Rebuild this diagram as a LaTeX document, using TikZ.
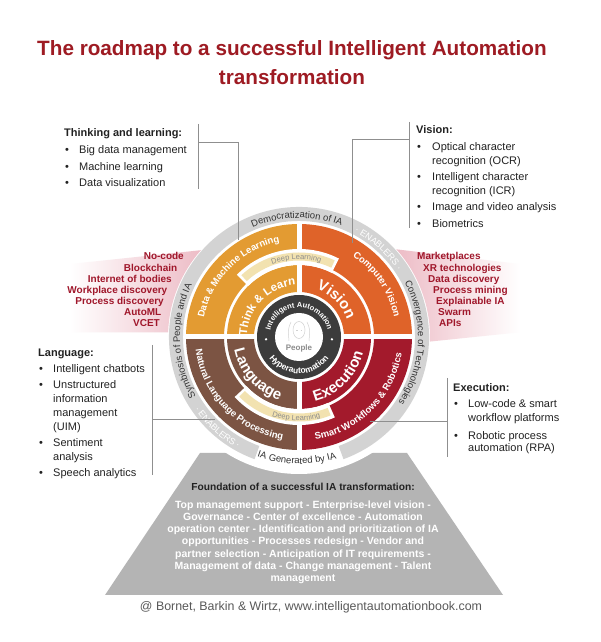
\documentclass[tikz,border=0pt]{standalone}
\usepackage{fontspec}
\setmainfont{Liberation Sans}
\usetikzlibrary{decorations.text}

\definecolor{titlered}{HTML}{9E1B23}
\definecolor{tlc}{HTML}{E39B32}
\definecolor{visc}{HTML}{DF6329}
\definecolor{langc}{HTML}{7C5443}
\definecolor{exc}{HTML}{A31A2C}
\definecolor{beige}{HTML}{F2E2B0}
\definecolor{darkring}{HTML}{3C3C3C}
\definecolor{enab}{HTML}{D3D3D3}
\definecolor{redtxt}{HTML}{A0172B}
\definecolor{pinkc}{HTML}{EDBCC6}
\definecolor{found}{HTML}{B4B4B4}
\definecolor{linec}{HTML}{8F8F8F}
\definecolor{bodytxt}{HTML}{222222}
\definecolor{graytxt}{HTML}{333333}
\definecolor{deeptxt}{HTML}{8C8C8C}

\newcommand\fsz[1]{\fontsize{#1}{#1}\selectfont}
\newcommand\annsec[5]{% color, r1, r2, a1, a2
  \fill[#1] ([shift={(#4:#3)}]O) arc[start angle=#4,end angle=#5,radius=#3]
    -- ([shift={(#5:#2)}]O) arc[start angle=#5,end angle=#4,radius=#2] -- cycle;}
\newcommand\cwtext[5]{% radius, centre angle, half span, format, text
  \path[decorate,decoration={text along path,text align=center,text={|#4|#5}}]
    ([shift={(#2+#3:#1)}]O) arc[start angle=#2+#3,end angle=#2-#3,radius=#1];}
\newcommand\ccwtext[5]{%
  \path[decorate,decoration={text along path,text align=center,text={|#4|#5}}]
    ([shift={(#2-#3:#1)}]O) arc[start angle=#2-#3,end angle=#2+#3,radius=#1];}
\newcommand\fInA{\fsz{11.5}\bfseries\color{white}}
\newcommand\fInB{\fsz{15}\bfseries\color{white}}
\newcommand\fOut{\fsz{9.5}\bfseries\color{white}}
\newcommand\fGr{\fsz{9.5}\color{graytxt}}
\newcommand\fEn{\fsz{9}\color{white}}
\newcommand\fDp{\fsz{7.5}\color{deeptxt}}
\newcommand\fDkA{\fsz{7.5}\bfseries\color{white}}
\newcommand\fDkB{\fsz{8.5}\bfseries\color{white}}

\begin{document}
\begin{tikzpicture}[x=1pt,y=1pt,
  txt/.style={inner sep=0pt,anchor=base west,font=\fsz{11},text=bodytxt},
  hdr/.style={txt,font=\fsz{11}\bfseries},
  redl/.style={inner sep=0pt,font=\fsz{10}\bfseries,text=redtxt},
  fnd/.style={inner sep=0pt,anchor=base,font=\fsz{10.5}\bfseries,text=white},
  callout/.style={draw=linec,line width=0.8pt}]
\fill[white] (0,0) rectangle (600,642);
\useasboundingbox (0,0) rectangle (600,642);
\coordinate (O) at (299,305);

% title
\node[inner sep=0pt,anchor=base,font=\fsz{20.7}\bfseries,text=titlered] (t1) at (292,586) {The roadmap to a successful Intelligent Automation};
\node[inner sep=0pt,anchor=base,font=\fsz{20.7}\bfseries,text=titlered] (t2) at (292,557.5) {transformation};

% foundation trapezoid
\fill[found] (200,189) -- (407,189) -- (503,47) -- (105,47) -- cycle;
\fill[white] (O) circle (137pt);

% pink backgrounds
\shade[left color=white,right color=pinkc] (70,378) -- ([shift={(138.5:131pt)}]O)
  arc[start angle=138.5,end angle=178,radius=131pt] -- (70,309.7) -- cycle;
\shade[left color=pinkc,right color=white] ([shift={(42:131pt)}]O) -- (520,378) -- (520,309.7)
  -- ([shift={(-2:131pt)}]O) arc[start angle=-2,end angle=42,radius=131pt] -- cycle;

% enablers ring
\annsec{enab}{116pt}{130pt}{-70}{250}

% outer quadrant ring
\annsec{visc}{75pt}{113pt}{0}{90}
\annsec{tlc}{75pt}{113pt}{90}{180}
\annsec{langc}{75pt}{113pt}{180}{270}
\annsec{exc}{75pt}{113pt}{270}{360}
% inner quadrant ring
\annsec{visc}{45pt}{72pt}{0}{90}
\annsec{tlc}{45pt}{72pt}{90}{180}
\annsec{langc}{45pt}{72pt}{180}{270}
\annsec{exc}{45pt}{72pt}{270}{360}
% notches for deep learning
\annsec{white}{72pt}{88pt}{63}{135}
\annsec{white}{72pt}{88pt}{223}{294}
% quadrant gaps
\draw[white,line width=5pt] ([shift={(-114pt,0)}]O) -- ([shift={(114pt,0)}]O);
\draw[white,line width=5pt] ([shift={(0,-114pt)}]O) -- ([shift={(0,114pt)}]O);
% deep learning bands
\annsec{beige}{76.5pt}{84.5pt}{65}{133}
\annsec{beige}{76.5pt}{84.5pt}{225}{292}

% dark ring and centre
\fill[darkring] (O) circle (42pt);
\fill[white] (O) circle (24pt);
\fill[white] ([shift={(184:33pt)}]O) circle (1.3pt);
\fill[white] ([shift={(356:33pt)}]O) circle (1.3pt);
% faint face
\begin{scope}[draw=black!18,line width=0.5pt]
  \draw ([shift={(0,7)}]O) ellipse (6pt and 8.5pt);
  \draw ([shift={(-8,15)}]O) .. controls ([shift={(-11,8)}]O) .. ([shift={(-10,-4)}]O);
  \draw ([shift={(8,15)}]O) .. controls ([shift={(11,8)}]O) .. ([shift={(10,-4)}]O);
  \draw ([shift={(-3,7)}]O) -- ([shift={(-1.5,7)}]O);
  \draw ([shift={(1.5,7)}]O) -- ([shift={(3,7)}]O);
\end{scope}
\node[inner sep=0pt,anchor=base,font=\fsz{8}\bfseries,text=black!45] (people) at (299,291) {People};

% ring texts
\cwtext{52pt}{136}{80}{\fInA}{Think {\&} Learn}
\cwtext{51pt}{45}{80}{\fInB}{Vision}
\ccwtext{66pt}{222}{80}{\fInB}{Language}
\ccwtext{66pt}{315}{80}{\fInB}{Execution}

\cwtext{97pt}{135}{80}{\fOut}{Data {\&} Machine Learning}
\cwtext{97pt}{34}{80}{\fOut}{Computer Vision}
\ccwtext{104pt}{224}{80}{\fOut}{Natural Language Processing}
\ccwtext{104pt}{315}{80}{\fOut}{Smart Workflows {\&} Robotics}

\cwtext{119pt}{91}{80}{\fGr}{Democratization of IA}
\cwtext{119pt}{-3}{80}{\fGr}{Convergence of Technologies}
\cwtext{119pt}{182}{80}{\fGr}{Symbiosis of People and IA}
\ccwtext{127pt}{269}{80}{\fGr}{IA Generated by IA}
\cwtext{119pt}{48}{40}{\fEn}{· ENABLERS ·}
\ccwtext{127pt}{228}{40}{\fEn}{· ENABLERS ·}

\cwtext{77.5pt}{92}{60}{\fDp}{Deep Learning}
\ccwtext{83.5pt}{268}{60}{\fDp}{Deep Learning}

\cwtext{29.5pt}{90}{89}{\fDkA}{Intelligent Automation}
\ccwtext{36.5pt}{270}{85}{\fDkB}{Hyperautomation}

% callout lines
\coordinate (thA) at (198,518); \coordinate (thB) at (198,453);
\coordinate (thC) at (198,500); \coordinate (thD) at (238,500); \coordinate (thE) at (238,402);
\draw[callout] (thA) -- (thB);
\draw[callout] (thC) -- (thD) -- (thE);
\coordinate (viA) at (409,520); \coordinate (viB) at (409,414);
\coordinate (viC) at (409,503); \coordinate (viD) at (352,503); \coordinate (viE) at (352,399);
\draw[callout] (viA) -- (viB);
\draw[callout] (viC) -- (viD) -- (viE);
\coordinate (laA) at (152,297); \coordinate (laB) at (152,167);
\coordinate (laC) at (152,223); \coordinate (laD) at (215,223);
\draw[callout] (laA) -- (laB);
\draw[callout] (laC) -- (laD);
\coordinate (exA) at (447,264); \coordinate (exB) at (447,185);
\coordinate (exC) at (447,221); \coordinate (exD) at (370,221);
\draw[callout] (exA) -- (exB);
\draw[callout] (exC) -- (exD);

% Thinking and learning
\node[hdr] (thh) at (64,505) {Thinking and learning:};
\node[txt] (thb1) at (65,488) {•}; \node[txt] (tht1) at (79,488) {Big data management};
\node[txt] (thb2) at (65,471) {•}; \node[txt] (tht2) at (79,471) {Machine learning};
\node[txt] (thb3) at (65,455) {•}; \node[txt] (tht3) at (79,455) {Data visualization};

% Vision
\node[hdr] (vih) at (416,508) {Vision:};
\node[txt] (vib1) at (417,491) {•}; \node[txt] (vit1) at (432,491) {Optical character};
\node[txt] (vit1b) at (432,477) {recognition (OCR)};
\node[txt] (vib2) at (417,461) {•}; \node[txt] (vit2) at (432,461) {Intelligent character};
\node[txt] (vit2b) at (432,447) {recognition (ICR)};
\node[txt] (vib3) at (417,431) {•}; \node[txt] (vit3) at (432,431) {Image and video analysis};
\node[txt] (vib4) at (417,414) {•}; \node[txt] (vit4) at (432,414) {Biometrics};

% Language
\node[hdr] (lah) at (38,285) {Language:};
\node[txt] (lab1) at (39,269) {•}; \node[txt] (lat1) at (53,269) {Intelligent chatbots};
\node[txt] (lab2) at (39,253) {•}; \node[txt] (lat2) at (53,253) {Unstructured};
\node[txt] (lat2b) at (53,239) {information};
\node[txt] (lat2c) at (53,225) {management};
\node[txt] (lat2d) at (53,211) {(UIM)};
\node[txt] (lab3) at (39,195) {•}; \node[txt] (lat3) at (53,195) {Sentiment};
\node[txt] (lat3b) at (53,181) {analysis};
\node[txt] (lab4) at (39,165) {•}; \node[txt] (lat4) at (53,165) {Speech analytics};

% Execution
\node[hdr] (exh) at (453,250) {Execution:};
\node[txt] (exb1) at (454,234) {•}; \node[txt] (ext1) at (468,234) {Low-code \& smart};
\node[txt] (ext1b) at (468,220) {workflow platforms};
\node[txt] (exb2) at (454,202) {•}; \node[txt] (ext2) at (468,202) {Robotic process};
\node[txt] (ext2b) at (468,190) {automation (RPA)};

% red technology labels
\node[redl,anchor=base east] (l1) at (184,382) {No-code};
\node[redl,anchor=base east] (l2) at (177.5,370.9) {Blockchain};
\node[redl,anchor=base east] (l3) at (172,359.8) {Internet of bodies};
\node[redl,anchor=base east] (l4) at (167.5,348.7) {Workplace discovery};
\node[redl,anchor=base east] (l5) at (164,337.6) {Process discovery};
\node[redl,anchor=base east] (l6) at (161.5,326.5) {AutoML};
\node[redl,anchor=base east] (l7) at (160,315.4) {VCET};
\node[redl,anchor=base west] (r1) at (417,382) {Marketplaces};
\node[redl,anchor=base west] (r2) at (423,370.9) {XR technologies};
\node[redl,anchor=base west] (r3) at (428,359.8) {Data discovery};
\node[redl,anchor=base west] (r4) at (433,348.7) {Process mining};
\node[redl,anchor=base west] (r5) at (436,337.6) {Explainable IA};
\node[redl,anchor=base west] (r6) at (438,326.5) {Swarm};
\node[redl,anchor=base west] (r7) at (439,315.4) {APIs};

% foundation text
\node[fnd,font=\fsz{10.2}\bfseries,text=bodytxt] (fh) at (303,151.5) {Foundation of a successful IA transformation:};
\node[fnd] (f1) at (303,133.6) {Top management support - Enterprise-level vision -};
\node[fnd] (f2) at (303,121.4) {Governance - Center of excellence - Automation};
\node[fnd] (f3) at (303,109.2) {operation center - Identification and prioritization of IA};
\node[fnd] (f4) at (303,97) {opportunities - Processes redesign - Vendor and};
\node[fnd] (f5) at (303,84.8) {partner selection - Anticipation of IT requirements -};
\node[fnd] (f6) at (303,72.6) {Management of data - Change management - Talent};
\node[fnd] (f7) at (303,60.4) {management};

% copyright
\node[inner sep=0pt,anchor=base,font=\fsz{12.4},text=black!65] (copy) at (311,31) {@ Bornet, Barkin \& Wirtz, www.intelligentautomationbook.com};
\end{tikzpicture}
\end{document}
